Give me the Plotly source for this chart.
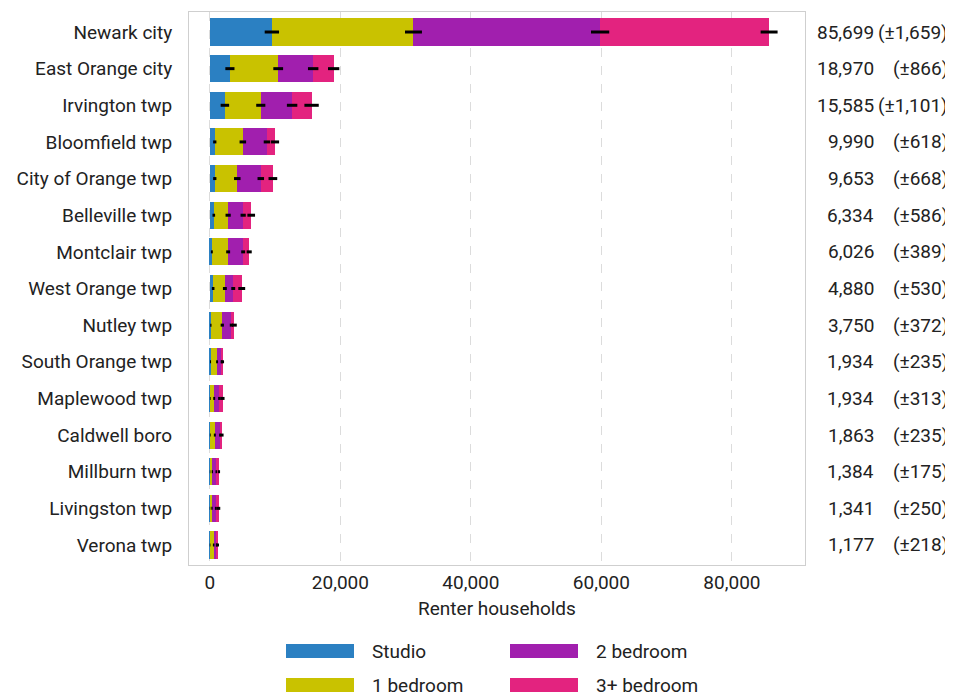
import plotly.graph_objects as go

places = ["Newark city", "East Orange city", "Irvington twp", "Bloomfield twp",
          "City of Orange twp", "Belleville twp", "Montclair twp", "West Orange twp",
          "Nutley twp", "South Orange twp", "Maplewood twp", "Caldwell boro",
          "Millburn twp", "Livingston twp", "Verona twp"]

studio = [9500, 3070, 2300, 750, 750, 600, 300, 500, 150, 100, 60, 60, 30, 20, 30]
one_bed = [21700, 7400, 5500, 4300, 3450, 2200, 2500, 1800, 1750, 1000, 600, 700, 350, 300, 550]
two_bed = [28600, 5360, 4800, 3700, 3600, 2300, 2300, 1280, 1400, 700, 800, 800, 600, 600, 450]
three_bed = [25899, 3140, 2985, 1240, 1853, 1234, 926, 1300, 450, 134, 474, 303, 404, 421, 147]

studio_moe = [1100, 700, 650, 250, 250, 200, 150, 200, 100, 80, 60, 60, 40, 40, 50]
one_bed_moe = [1300, 750, 700, 500, 500, 400, 300, 300, 250, 150, 150, 150, 100, 100, 120]
two_bed_moe = [1400, 800, 800, 500, 500, 400, 300, 300, 250, 150, 200, 150, 120, 150, 120]
three_bed_moe = [1300, 866, 1101, 618, 668, 586, 389, 530, 372, 235, 313, 235, 175, 250, 218]

totals = [85699, 18970, 15585, 9990, 9653, 6334, 6026, 4880, 3750, 1934, 1934, 1863, 1384, 1341, 1177]
total_moe = [1659, 866, 1101, 618, 668, 586, 389, 530, 372, 235, 313, 235, 175, 250, 218]

series = [("Studio", studio, studio_moe, "#2b80c2"),
          ("1 bedroom", one_bed, one_bed_moe, "#c9c200"),
          ("2 bedroom", two_bed, two_bed_moe, "#a11fae"),
          ("3+ bedroom", three_bed, three_bed_moe, "#e3237f")]

# page body has an 8px margin; reference coordinates are window pixels
OFF = 8
WIN_W, WIN_H = 953, 697
L, R, T, B = 189, 805, 12, 565
FONT = "Roboto"
FS = 19

def px(x):
    return (x - L) / (R - L)

def py(y):
    return (B - y) / (B - T)

fig = go.Figure()
for name, vals, moe, col in series:
    fig.add_trace(go.Bar(
        y=places, x=vals, name=name, orientation="h",
        marker=dict(color=col, line=dict(width=0)),
        showlegend=False, hoverinfo="x+name",
    ))

# error bars drawn on top at the cumulative end of each segment
cum = [0] * len(places)
for name, vals, moe, col in series:
    cum = [c + v for c, v in zip(cum, vals)]
    fig.add_trace(go.Scatter(
        y=places, x=list(cum), mode="markers", marker=dict(size=1, opacity=0),
        error_x=dict(type="data", array=moe, color="black", thickness=3, width=0),
        showlegend=False, hoverinfo="skip",
    ))

annotations = []
for p, t, m in zip(places, totals, total_moe):
    annotations.append(dict(x=px(876), y=p, xref="paper", yref="y", text=f"{t:,}",
                            showarrow=False, xanchor="right", yanchor="middle",
                            font=dict(family=FONT, size=FS, color="#222")))
    annotations.append(dict(x=px(950), y=p, xref="paper", yref="y", text=f"(±{m:,})",
                            showarrow=False, xanchor="right", yanchor="middle",
                            font=dict(family=FONT, size=FS, color="#222")))

# custom legend
shapes = []
legend_items = [("Studio", "#2b80c2", 286, 651), ("1 bedroom", "#c9c200", 286, 685),
                ("2 bedroom", "#a11fae", 510, 651), ("3+ bedroom", "#e3237f", 510, 685)]
for name, col, x0, yc in legend_items:
    shapes.append(dict(type="rect", xref="paper", yref="paper",
                       x0=px(x0), x1=px(x0 + 68), y0=py(yc + 7), y1=py(yc - 7),
                       fillcolor=col, line=dict(width=0)))
    annotations.append(dict(x=px(x0 + 84), y=py(yc), xref="paper", yref="paper", text=name,
                            showarrow=False, xanchor="left", yanchor="middle",
                            font=dict(family=FONT, size=FS, color="#222")))

fig.update_layout(
    width=WIN_W - OFF, height=WIN_H - OFF,
    margin=dict(l=L - OFF, r=WIN_W - R, t=T - OFF, b=WIN_H - B, pad=0),
    barmode="stack", bargap=0.26,
    plot_bgcolor="white", paper_bgcolor="white",
    font=dict(family=FONT, size=FS, color="#222"),
    annotations=annotations, shapes=shapes,
    xaxis=dict(range=[-3200, 91200], tickvals=[0, 20000, 40000, 60000, 80000],
               ticktext=["0", "20,000", "40,000", "60,000", "80,000"],
               showgrid=True, gridcolor="#dcdcdc", griddash="dash", gridwidth=1,
               zeroline=False, showline=True, linecolor="#cfcfcf", mirror=True,
               ticks="", tickfont=dict(size=FS),
               title=dict(text="Renter households", font=dict(size=FS), standoff=8)),
    yaxis=dict(range=[14.546, -0.546], showgrid=False, showline=True, linecolor="#cfcfcf",
               mirror=True, ticks="", ticklabelstandoff=12, tickfont=dict(size=FS)),
)

fig.write_html("out.html")
